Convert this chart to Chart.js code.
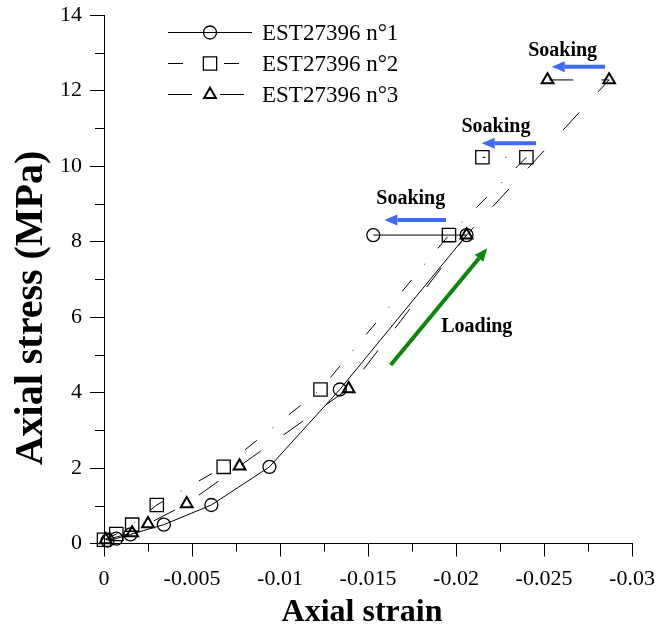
<!DOCTYPE html>
<html lang="en">
<head>
<meta charset="utf-8">
<title>Axial stress vs axial strain</title>
<script src="https://cdn.jsdelivr.net/npm/chart.js@4.4.1/dist/chart.umd.min.js"></script>
<style>
  html, body { margin: 0; padding: 0; background: #fff; }
  #wrap { width: 658px; height: 625px; }
</style>
</head>
<body>
<div id="wrap"><canvas id="chart"></canvas></div>
<script>
var seriesNames = ['EST27396 n°1', 'EST27396 n°2', 'EST27396 n°3']

// loading steps then soaking (last point, same stress)
var strain1 = [-0.0002, -0.0007, -0.0015, -0.0034, -0.0061, -0.0094, -0.0134, -0.0206, -0.0153]
var stress1 = [0.08, 0.13, 0.24, 0.5, 1.02, 2.03, 4.08, 8.17, 8.17]

var strain2 = [0, -0.0007, -0.0016, -0.003, -0.0068, -0.0123, -0.0196, -0.024, -0.0215]
var stress2 = [0.1, 0.25, 0.5, 1.02, 2.03, 4.08, 8.17, 10.23, 10.23]

var strain3 = [-0.0001, -0.0016, -0.0025, -0.0047, -0.0077, -0.0139, -0.0206, -0.0287, -0.0252]
var stress3 = [0.1, 0.28, 0.52, 1.05, 2.05, 4.1, 8.17, 12.28, 12.28]

var xTicks = [0, -0.005, -0.01, -0.015, -0.02, -0.025, -0.03]
var xTickLabels = ['0', '-0.005', '-0.01', '-0.015', '-0.02', '-0.025', '-0.03']
var yTicks = [0, 2, 4, 6, 8, 10, 12, 14]
var yTickLabels = ['0', '2', '4', '6', '8', '10', '12', '14']

// annotations (data units)
var soakLabelX = [-0.02606, -0.02227, -0.01743]
var soakLabelY = [13.05, 11.04, 9.13]
var soakFromX = [-0.02847, -0.02455, -0.01943]
var soakToX = [-0.02544, -0.02146, -0.01593]
var soakY = [12.63, 10.6, 8.57]
var loadFrom = [-0.01629, 4.73]
var loadTo = [-0.02178, 7.82]
var loadLabel = [-0.02118, 5.73]

function toPoints(xs, ys) {
  return xs.map(function (x, i) { return {x: x, y: ys[i]} })
}

var serif = '"Liberation Serif", "DejaVu Serif", serif'

function arrow(ctx, x1, y1, x2, y2, color) {
  var ang = Math.atan2(y2 - y1, x2 - x1)
  var head = 13, half = 5.5
  var bx = x2 - head * Math.cos(ang), by = y2 - head * Math.sin(ang)
  ctx.strokeStyle = color
  ctx.fillStyle = color
  ctx.lineWidth = 4
  ctx.beginPath()
  ctx.moveTo(x1, y1)
  ctx.lineTo(bx, by)
  ctx.stroke()
  ctx.beginPath()
  ctx.moveTo(x2, y2)
  ctx.lineTo(bx + half * Math.sin(ang), by - half * Math.cos(ang))
  ctx.lineTo(bx - half * Math.sin(ang), by + half * Math.cos(ang))
  ctx.closePath()
  ctx.fill()
}

var extras = {
  id: 'extras',
  afterDraw: function (chart) {
    var ctx = chart.ctx, xs = chart.scales.x, ys = chart.scales.y, a = chart.chartArea
    ctx.save()

    // minor ticks between the major ones
    ctx.strokeStyle = '#000'
    ctx.lineWidth = 1
    ctx.beginPath()
    for (var i = 0; i < xTicks.length - 1; i++) {
      var px = Math.round(xs.getPixelForValue((xTicks[i] + xTicks[i + 1]) / 2)) + 0.5
      ctx.moveTo(px, a.bottom)
      ctx.lineTo(px, a.bottom + 8)
    }
    for (var j = 0; j < yTicks.length - 1; j++) {
      var py = Math.round(ys.getPixelForValue((yTicks[j] + yTicks[j + 1]) / 2)) + 0.5
      ctx.moveTo(a.left, py)
      ctx.lineTo(a.left - 9, py)
    }
    ctx.stroke()

    // soaking arrows and labels
    ctx.font = 'bold 20px ' + serif
    ctx.textAlign = 'center'
    ctx.textBaseline = 'middle'
    for (var k = 0; k < soakY.length; k++) {
      arrow(ctx, xs.getPixelForValue(soakFromX[k]), ys.getPixelForValue(soakY[k]),
        xs.getPixelForValue(soakToX[k]), ys.getPixelForValue(soakY[k]), '#3d6cf2')
      ctx.fillStyle = '#000'
      ctx.fillText('Soaking', xs.getPixelForValue(soakLabelX[k]), ys.getPixelForValue(soakLabelY[k]))
    }

    // loading arrow
    arrow(ctx, xs.getPixelForValue(loadFrom[0]), ys.getPixelForValue(loadFrom[1]),
      xs.getPixelForValue(loadTo[0]), ys.getPixelForValue(loadTo[1]), '#0a870a')
    ctx.fillStyle = '#000'
    ctx.fillText('Loading', xs.getPixelForValue(loadLabel[0]), ys.getPixelForValue(loadLabel[1]))

    // axis titles
    ctx.font = 'bold 32px ' + serif
    ctx.fillText('Axial strain', (a.left + a.right) / 2 - 6, 613)
    ctx.translate(32, 308)
    ctx.rotate(-Math.PI / 2)
    ctx.font = 'bold 40px ' + serif
    ctx.fillText('Axial stress (MPa)', 0, 0)
    ctx.restore()

    // legend: line sample, hollow marker, name
    ctx.save()
    chart.data.datasets.forEach(function (ds, n) {
      var y = 32.5 + n * 31, x0 = a.left + 64, x1 = a.left + 148
      ctx.strokeStyle = '#000'
      ctx.lineWidth = 1
      ctx.setLineDash(ds.borderDash || [])
      ctx.beginPath()
      ctx.moveTo(x0, y)
      ctx.lineTo(x1, y)
      ctx.stroke()
      ctx.setLineDash([])
      ctx.lineWidth = ds.pointBorderWidth
      ctx.fillStyle = 'rgba(0,0,0,0)'
      Chart.helpers.drawPoint(ctx, {pointStyle: ds.pointStyle, radius: ds.pointRadius, rotation: 0, borderWidth: ds.pointBorderWidth}, (x0 + x1) / 2, y)
      ctx.fillStyle = '#000'
      ctx.font = '23px ' + serif
      ctx.textAlign = 'left'
      ctx.textBaseline = 'middle'
      ctx.fillText(seriesNames[n], a.left + 158, y + 1)
    })
    ctx.restore()
  }
}

function baseSet(label, data, style, radius, bw, dash) {
  return {
    label: label,
    data: data,
    showLine: true,
    tension: 0,
    borderColor: '#000',
    borderWidth: 1,
    borderDash: dash,
    pointStyle: style,
    pointRadius: radius,
    pointHoverRadius: radius,
    pointBorderWidth: bw,
    pointBorderColor: '#000',
    pointBackgroundColor: 'rgba(0,0,0,0)',
    clip: false
  }
}

var ctx = document.getElementById('chart').getContext('2d')
var chart = new Chart(ctx, {
  type: 'scatter',
  data: {
    datasets: [
      baseSet(seriesNames[0], toPoints(strain1, stress1), 'circle', 6.5, 1.3, []),
      baseSet(seriesNames[1], toPoints(strain2, stress2), 'rect', 9.4, 1.3, [15, 20, 1, 20]),
      baseSet(seriesNames[2], toPoints(strain3, stress3), 'triangle', 6.8, 2, [24, 28])
    ]
  },
  options: {
    responsive: true,
    maintainAspectRatio: false,
    animation: false,
    events: [],
    layout: { padding: { top: 15, right: 26, left: 0, bottom: 0 } },
    plugins: { legend: { display: false }, tooltip: { enabled: false } },
    scales: {
      x: {
        type: 'linear',
        min: -0.03,
        max: 0,
        reverse: true,
        afterBuildTicks: function (s) { s.ticks = xTicks.map(function (v) { return {value: v} }) },
        afterFit: function (s) { s.height = 81.5; s.paddingLeft = 0; s.paddingRight = 0 },
        grid: { drawOnChartArea: false, drawTicks: true, tickLength: 13, tickColor: '#000', tickWidth: 1 },
        border: { display: true, color: '#000', width: 1 },
        ticks: {
          autoSkip: false, maxRotation: 0, padding: 10, color: '#000',
          font: { family: serif, size: 22 },
          callback: function (v, i) { return xTickLabels[i] }
        }
      },
      y: {
        type: 'linear',
        min: 0,
        max: 14,
        afterBuildTicks: function (s) { s.ticks = yTicks.map(function (v) { return {value: v} }) },
        afterFit: function (s) { s.width = 104; s.paddingTop = 0; s.paddingBottom = 0 },
        grid: { drawOnChartArea: false, drawTicks: true, tickLength: 14, tickColor: '#000', tickWidth: 1 },
        border: { display: true, color: '#000', width: 1 },
        ticks: {
          autoSkip: false, padding: 8, color: '#000',
          font: { family: serif, size: 22 },
          callback: function (v, i) { return yTickLabels[i] }
        }
      }
    }
  },
  plugins: [extras]
})
</script>
</body>
</html>
